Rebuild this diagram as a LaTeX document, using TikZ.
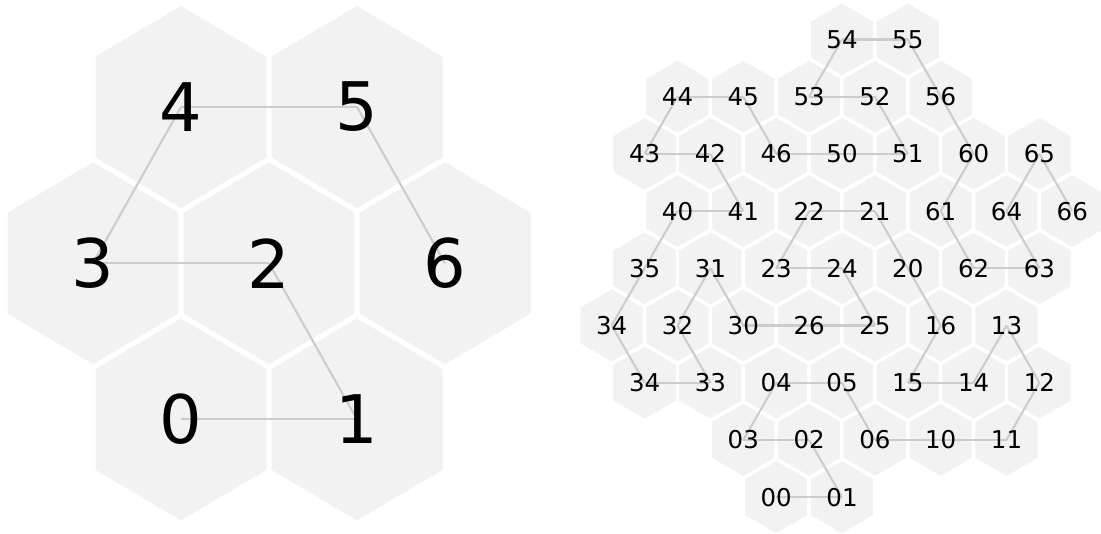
\documentclass[tikz,border=0pt]{standalone}
\usepackage{fontspec}
\setmainfont{DejaVu Sans}
\definecolor{hexfill}{RGB}{242,242,242}
\definecolor{edgegray}{RGB}{204,204,204}
\pgfdeclarelayer{hexlayer}
\pgfdeclarelayer{edgelayer}
\pgfsetlayers{hexlayer,edgelayer,main}
\tikzset{
  biglabel/.style={inner sep=0pt, font=\fontsize{67}{67}\selectfont},
  smalllabel/.style={inner sep=0pt, font=\fontsize{24.5}{25}\selectfont},
  bighex/.style={fill=hexfill, draw=white, line width=5pt, line join=miter},
  smallhex/.style={fill=hexfill, draw=white, line width=3.4pt, line join=miter},
  link/.style={draw=edgegray, line width=2.1pt},
}
\newcommand\bigcell[4]{%
  \node[biglabel] (#1) at (#2,#3) {#4};
  \begin{pgfonlayer}{hexlayer}
    \path[bighex] (#1.center) +(0,-104) -- +(88,-52) -- +(88,52) -- +(0,104) -- +(-88,52) -- +(-88,-52) -- cycle;
  \end{pgfonlayer}}
\newcommand\smallcell[4]{%
  \node[smalllabel] (#1) at ({611.7+32.9*#2},{39.5+57.2*#3}) {#4};
  \begin{pgfonlayer}{hexlayer}
    \path[smallhex] (#1.center) +(0,-38) -- +(32.9,-19) -- +(32.9,19) -- +(0,38) -- +(-32.9,19) -- +(-32.9,-19) -- cycle;
  \end{pgfonlayer}}
\begin{document}
\begin{tikzpicture}[x=1pt,y=-1pt]
\begin{pgfonlayer}{hexlayer}
  \fill[white] (0,0) rectangle (1101,534);
\end{pgfonlayer}
\useasboundingbox (0,0) rectangle (1101,534);
% left cluster
\bigcell{L4}{181}{107}{4}
\bigcell{L5}{357}{107}{5}
\bigcell{L3}{93}{263.2}{3}
\bigcell{L2}{269}{263.2}{2}
\bigcell{L6}{445}{263.2}{6}
\bigcell{L0}{181}{419.4}{0}
\bigcell{L1}{357}{419.4}{1}
% right cluster
\smallcell{c54}{7}{0}{54}
\smallcell{c55}{9}{0}{55}
\smallcell{c44}{2}{1}{44}
\smallcell{c45}{4}{1}{45}
\smallcell{c53}{6}{1}{53}
\smallcell{c52}{8}{1}{52}
\smallcell{c56}{10}{1}{56}
\smallcell{c43}{1}{2}{43}
\smallcell{c42}{3}{2}{42}
\smallcell{c46}{5}{2}{46}
\smallcell{c50}{7}{2}{50}
\smallcell{c51}{9}{2}{51}
\smallcell{c60}{11}{2}{60}
\smallcell{c65}{13}{2}{65}
\smallcell{c40}{2}{3}{40}
\smallcell{c41}{4}{3}{41}
\smallcell{c22}{6}{3}{22}
\smallcell{c21}{8}{3}{21}
\smallcell{c61}{10}{3}{61}
\smallcell{c64}{12}{3}{64}
\smallcell{c66}{14}{3}{66}
\smallcell{c35}{1}{4}{35}
\smallcell{c31}{3}{4}{31}
\smallcell{c23}{5}{4}{23}
\smallcell{c24}{7}{4}{24}
\smallcell{c20}{9}{4}{20}
\smallcell{c62}{11}{4}{62}
\smallcell{c63}{13}{4}{63}
\smallcell{c34a}{0}{5}{34}
\smallcell{c32}{2}{5}{32}
\smallcell{c30}{4}{5}{30}
\smallcell{c26}{6}{5}{26}
\smallcell{c25}{8}{5}{25}
\smallcell{c16}{10}{5}{16}
\smallcell{c13}{12}{5}{13}
\smallcell{c34b}{1}{6}{34}
\smallcell{c33}{3}{6}{33}
\smallcell{c04}{5}{6}{04}
\smallcell{c05}{7}{6}{05}
\smallcell{c15}{9}{6}{15}
\smallcell{c14}{11}{6}{14}
\smallcell{c12}{13}{6}{12}
\smallcell{c03}{4}{7}{03}
\smallcell{c02}{6}{7}{02}
\smallcell{c06}{8}{7}{06}
\smallcell{c10}{10}{7}{10}
\smallcell{c11}{12}{7}{11}
\smallcell{c00}{5}{8}{00}
\smallcell{c01}{7}{8}{01}
\begin{pgfonlayer}{edgelayer}
  \foreach \a/\b in {L4/L5,L4/L3,L5/L6,L3/L2,L2/L1,L0/L1,
    c54/c55,c54/c53,c55/c56,c44/c45,c44/c43,c45/c46,c53/c52,c52/c51,c56/c60,
    c43/c42,c42/c41,c46/c50,c50/c51,c60/c61,c65/c64,c65/c66,
    c40/c41,c40/c35,c22/c21,c22/c23,c21/c20,c61/c62,c64/c63,
    c35/c34a,c31/c32,c31/c30,c23/c24,c24/c25,c20/c16,c62/c63,
    c34a/c34b,c32/c33,c30/c26,c26/c25,c16/c15,c13/c14,c13/c12,
    c34b/c33,c04/c05,c04/c03,c05/c06,c15/c14,c12/c11,
    c03/c02,c02/c01,c06/c10,c10/c11,c00/c01}
    {\draw[link] (\a.center) -- (\b.center);}
\end{pgfonlayer}
\end{tikzpicture}
\end{document}
